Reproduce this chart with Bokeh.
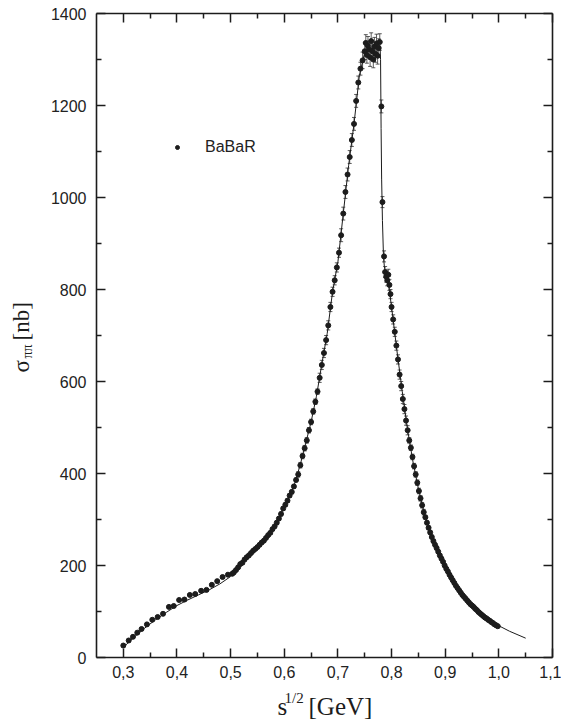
import math
from bokeh.plotting import figure
from bokeh.layouts import row, column
from bokeh.models import (Range1d, LinearAxis, FixedTicker, CustomJSTickFormatter,
                          ColumnDataSource, Whisker, TeeHead, Label, Legend, LegendItem, Grid)
from bokeh.embed import file_html
from bokeh.resources import INLINE

# ---------------- data ----------------
# BaBaR points, low-energy part
x_a = [0.300, 0.310, 0.318, 0.326, 0.334, 0.344, 0.354, 0.364, 0.374, 0.385, 0.394,
       0.404, 0.414, 0.424, 0.434, 0.445, 0.455, 0.465, 0.475, 0.485, 0.495, 0.503]
y_a = [26, 37, 45, 54, 62, 72, 82, 88, 95, 110, 112,
       125, 126, 136, 138, 145, 147, 158, 166, 175, 180, 182]
e_a = [3, 3, 3, 3, 3, 3, 3, 3, 3, 3, 3,
       3, 3, 3, 3, 3, 3, 3, 3, 3, 3, 3]

# rising side of the rho peak
x_b = [0.506, 0.510, 0.514, 0.518, 0.522, 0.526, 0.530, 0.534, 0.538, 0.542,
       0.546, 0.550, 0.554, 0.558, 0.562, 0.566, 0.570, 0.574, 0.578, 0.582,
       0.586, 0.590, 0.594, 0.598, 0.602, 0.606, 0.610, 0.614, 0.618, 0.622,
       0.626, 0.630, 0.634, 0.638, 0.642, 0.646, 0.650, 0.654, 0.658, 0.662,
       0.666, 0.670, 0.674, 0.678, 0.682, 0.686, 0.690, 0.694, 0.698, 0.702,
       0.706, 0.710, 0.714, 0.718, 0.722, 0.726, 0.730, 0.734, 0.738, 0.742,
       0.746, 0.750]
y_b = [185, 190, 196, 203, 206, 213, 218, 222, 227, 232,
       236, 240, 245, 250, 254, 260, 266, 271, 279, 285,
       293, 302, 312, 324, 332, 341, 352, 360, 372, 386,
       398, 418, 438, 455, 472, 494, 512, 535, 556, 578,
       608, 636, 662, 690, 722, 762, 795, 820, 848, 880,
       918, 965, 1012, 1050, 1088, 1125, 1160, 1210, 1250, 1280,
       1298, 1318]
e_b = [3, 3, 3, 3, 3, 3, 3, 3, 3, 3,
       3, 3, 3, 3, 3, 3, 3, 3, 3, 3,
       4, 4, 4, 4, 4, 4, 4, 4, 4, 4,
       6, 6, 6, 6, 6, 6, 6, 6, 6, 6,
       10, 10, 10, 10, 10, 10, 10, 10, 10, 10,
       14, 14, 14, 14, 14, 14, 14, 14, 14, 14,
       18, 18]

# peak plateau
x_c = [0.752, 0.754, 0.756, 0.758, 0.760, 0.762, 0.764, 0.766, 0.768, 0.770,
       0.772, 0.774, 0.776, 0.778]
y_c = [1336, 1310, 1330, 1322, 1305, 1340, 1318, 1300, 1328, 1312,
       1335, 1308, 1325, 1338]
e_c = [18, 18, 20, 18, 20, 18, 20, 18, 20, 18,
       20, 18, 20, 18]

# rho-omega drop
x_d = [0.781, 0.783, 0.786, 0.788, 0.790, 0.792, 0.794, 0.796, 0.798, 0.800]
y_d = [1198, 990, 872, 838, 828, 820, 832, 810, 790, 762]
e_d = [14, 12, 12, 12, 12, 12, 12, 12, 10, 10]

# falling side
x_e = [0.803, 0.806, 0.809, 0.812, 0.815, 0.818, 0.821, 0.824, 0.827, 0.830,
       0.833, 0.836, 0.839, 0.842, 0.845, 0.848, 0.851, 0.854, 0.857, 0.860,
       0.863, 0.866, 0.869, 0.872, 0.875, 0.878, 0.881, 0.884, 0.887, 0.890,
       0.893, 0.896, 0.899, 0.902, 0.905, 0.908, 0.911, 0.914, 0.917, 0.920,
       0.923, 0.926, 0.929, 0.932, 0.935, 0.938, 0.941, 0.944, 0.947, 0.950,
       0.953, 0.956, 0.959, 0.962, 0.965, 0.968, 0.971, 0.974, 0.977, 0.980,
       0.983, 0.986, 0.989, 0.992, 0.995, 0.998]
y_e = [735, 708, 678, 648, 615, 590, 562, 540, 515, 494,
       472, 456, 436, 416, 398, 380, 362, 346, 331, 316,
       305, 293, 282, 272, 262, 253, 245, 238, 230, 222,
       215, 208, 200, 193, 187, 180, 174, 168, 162, 156,
       151, 146, 141, 136, 132, 128, 124, 120, 116, 113,
       110, 106, 103, 99, 96, 93, 90, 87, 85, 82,
       80, 77, 75, 72, 70, 68]
e_e = [10, 10, 10, 10, 10, 10, 10, 10, 10, 10,
       6, 6, 6, 6, 6, 6, 6, 6, 6, 6,
       4, 4, 4, 4, 4, 4, 4, 4, 4, 4,
       3, 3, 3, 3, 3, 3, 3, 3, 3, 3,
       2, 2, 2, 2, 2, 2, 2, 2, 2, 2,
       2, 2, 2, 2, 2, 2, 2, 2, 2, 2,
       2, 2, 2, 2, 2, 2]

# fitted curve
fit_x = [0.300, 0.320, 0.340, 0.360, 0.380, 0.400, 0.420, 0.440, 0.460, 0.480, 0.500,
         0.510, 0.520, 0.530, 0.540, 0.550, 0.560, 0.570, 0.580, 0.590, 0.600,
         0.610, 0.620, 0.630, 0.640, 0.650, 0.660, 0.670, 0.680, 0.690, 0.700,
         0.710, 0.720, 0.730, 0.740, 0.750, 0.760, 0.770,
         0.7785, 0.7795, 0.7805, 0.7815, 0.783, 0.785, 0.787, 0.790, 0.795,
         0.800, 0.810, 0.820, 0.830, 0.840, 0.850, 0.860, 0.870, 0.880, 0.890,
         0.900, 0.910, 0.920, 0.930, 0.940, 0.950, 0.960, 0.970, 0.980, 0.990,
         1.000, 1.020, 1.050]
fit_y = [22, 44, 64, 82, 98, 113, 125, 136, 147, 160, 176,
         189, 204, 217, 229, 240, 252, 266, 282, 302, 328,
         352, 380, 420, 466, 512, 568, 638, 704, 795, 860,
         965, 1070, 1160, 1265, 1316, 1322, 1326,
         1330, 1300, 1150, 1040, 950, 870, 845, 828, 805,
         762, 667, 578, 494, 425, 367, 318, 280, 248, 222,
         198, 176, 156, 139, 125, 113, 102, 92, 83, 76,
         69, 57, 42]

x_ticks = [0.3, 0.4, 0.5, 0.6, 0.7, 0.8, 0.9, 1.0, 1.1]
x_minor = [0.35, 0.45, 0.55, 0.65, 0.75, 0.85, 0.95, 1.05]
y_ticks = [0, 200, 400, 600, 800, 1000, 1200, 1400]
y_minor = [100, 300, 500, 700, 900, 1100, 1300]

# ---------------- main figure ----------------
xs = x_a + x_b + x_c + x_d + x_e
ys = y_a + y_b + y_c + y_d + y_e
es = e_a + e_b + e_c + e_d + e_e
n = min(len(xs), len(ys), len(es))
xs, ys, es = xs[:n], ys[:n], es[:n]
src = ColumnDataSource(dict(x=xs, y=ys,
                            lower=[y - e for y, e in zip(ys, es)],
                            upper=[y + e for y, e in zip(ys, es)]))

INK = "#1c1c1c"
SERIF = "Liberation Serif"


def hide_grids(fig):
    for r in list(fig.center):
        if isinstance(r, Grid):
            r.visible = False


p = figure(width=521, height=686, x_range=Range1d(0.25, 1.1), y_range=Range1d(0, 1400),
           output_backend="svg", toolbar_location=None,
           x_axis_location=None, y_axis_location=None, frame_align=False,
           min_border_left=56, min_border_right=9, min_border_top=13, min_border_bottom=29)
p.outline_line_color = None
hide_grids(p)

xt = FixedTicker(ticks=x_ticks, minor_ticks=x_minor)
yt = FixedTicker(ticks=y_ticks, minor_ticks=y_minor)


def style(ax, labels=True):
    ax.axis_line_color = INK
    ax.axis_line_width = 1.6
    ax.major_tick_line_color = INK
    ax.minor_tick_line_color = INK
    ax.major_tick_line_width = 1.5
    ax.minor_tick_line_width = 1.5
    ax.major_tick_in = 9
    ax.major_tick_out = 0
    ax.minor_tick_in = 5
    ax.minor_tick_out = 0
    ax.major_label_text_font = "Liberation Sans"
    ax.major_label_text_font_size = "16px"
    ax.major_label_text_color = "#222222"
    if not labels:
        ax.formatter = CustomJSTickFormatter(code="return '';")
        ax.major_label_standoff = 0


bottom = LinearAxis(ticker=xt, formatter=CustomJSTickFormatter(
    code="return tick.toFixed(1).replace('.', ',');"))
style(bottom)
bottom.major_label_standoff = 8
top = LinearAxis(ticker=xt)
style(top, labels=False)
left = LinearAxis(ticker=yt, formatter=CustomJSTickFormatter(code="return tick.toFixed(0);"))
style(left)
left.major_label_standoff = 10
right = LinearAxis(ticker=yt)
style(right, labels=False)
p.add_layout(bottom, "below")
p.add_layout(top, "above")
p.add_layout(left, "left")
p.add_layout(right, "right")

# fitted curve
p.line(fit_x, fit_y, line_color=INK, line_width=1.0)

# error bars
p.add_layout(Whisker(source=src, base="x", upper="upper", lower="lower",
                     line_color="#333333", line_width=0.8,
                     upper_head=TeeHead(size=4, line_color="#333333", line_width=0.8),
                     lower_head=TeeHead(size=4, line_color="#333333", line_width=0.8)))

pts = p.scatter("x", "y", source=src, marker="circle", size=5,
                fill_color=INK, line_color=INK)

legend = Legend(items=[LegendItem(label="BaBaR", renderers=[pts])], location=(76, 500),
                background_fill_alpha=0, border_line_color=None, padding=0, margin=0,
                glyph_width=10, glyph_height=20, label_height=20, label_standoff=23,
                label_text_font="Liberation Sans", label_text_font_size="16px",
                label_text_color="#222222", spacing=0)
p.add_layout(legend)

# ---------------- axis-title strips ----------------
xlab = figure(width=521, height=35, x_range=Range1d(0, 521), y_range=Range1d(0, 35),
              output_backend="svg", toolbar_location=None, title=None, frame_align=False,
              x_axis_location=None, y_axis_location=None, min_border=0)
xlab.outline_line_color = None
hide_grids(xlab)
xlab.add_layout(Label(x=237, y=15, text="s", text_font=SERIF, text_font_size="25px",
                      text_color=INK, text_align="left", text_baseline="alphabetic"))
xlab.add_layout(Label(x=244, y=24, text="1/2", text_font=SERIF, text_font_size="15px",
                      text_color=INK, text_align="left", text_baseline="alphabetic"))
xlab.add_layout(Label(x=268, y=15, text="[GeV]", text_font=SERIF, text_font_size="25px",
                      text_color=INK, text_align="left", text_baseline="alphabetic"))

ylab = figure(width=40, height=721, x_range=Range1d(0, 40), y_range=Range1d(0, 721),
              output_backend="svg", toolbar_location=None, title=None, frame_align=False,
              x_axis_location=None, y_axis_location=None, min_border=0)
ylab.outline_line_color = None
hide_grids(ylab)
ylab.add_layout(Label(x=21, y=349, text="σ", text_font=SERIF, text_font_size="23px",
                      text_color=INK, text_align="left", text_baseline="alphabetic",
                      angle=math.pi / 2))
ylab.add_layout(Label(x=27, y=363, text="ππ", text_font=SERIF, text_font_size="14px",
                      text_color=INK, text_align="left", text_baseline="alphabetic",
                      angle=math.pi / 2))
ylab.add_layout(Label(x=21, y=381, text="[nb]", text_font=SERIF, text_font_size="23px",
                      text_color=INK, text_align="left", text_baseline="alphabetic",
                      angle=math.pi / 2))

layout = row(ylab, column(p, xlab, spacing=0), spacing=0)

open("out.html", "w").write(file_html(layout, INLINE))
